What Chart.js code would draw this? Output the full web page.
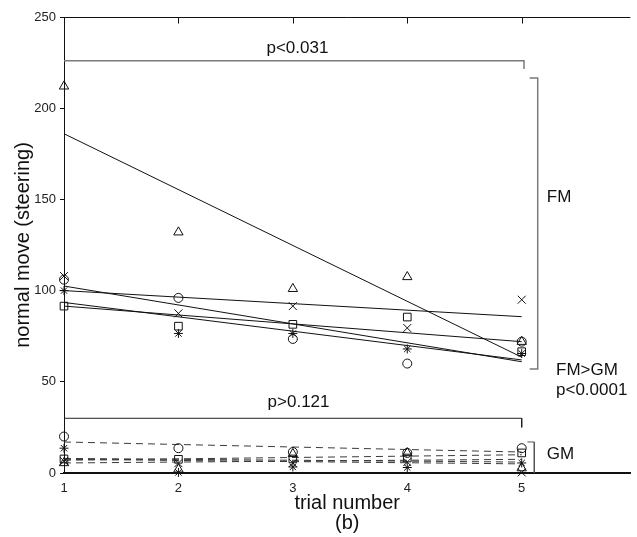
<!DOCTYPE html>
<html>
<head>
<meta charset="utf-8">
<script src="https://cdn.jsdelivr.net/npm/chart.js@4/dist/chart.umd.min.js"></script>
<style>
  html, body { margin: 0; padding: 0; background: #fff; overflow: hidden; }
  #wrap { width: 637px; height: 537px; }
</style>
</head>
<body>
<div id="wrap"><canvas id="chart"></canvas></div>
<script>
const FONT = "'Liberation Sans', Arial, Helvetica, sans-serif";

const trials = [1, 2, 3, 4, 5];
const yTicks = [0, 50, 100, 150, 200, 250];

// subjects, in marker order
const markers = ["triangle", "crossRot", "rect", "circle", "star"];
const markerSize = [5.4, 5.6, 5.4, 4.5, 4.5];

// FM group, normal moves per trial
const fmTriangle = [212, 132, 101, 107.5, 72];
const fmCross    = [108, 87.5, 91.5, 79.5, 95];
const fmSquare   = [91.5, 80.5, 81.5, 85.5, 66.5];
const fmCircle   = [106, 96, 73.5, 60, 72];
const fmStar     = [100, 76.5, 76.5, 68, 65.5];

// GM group, normal moves per trial
const gmTriangle = [5.5, 2, 10.5, 11, 2.7];
const gmCross    = [6.5, 5.4, 5.5, 6, 0.3];
const gmSquare   = [7.7, 7.5, 7.7, 8.2, 11];
const gmCircle   = [20, 13.6, 11.5, 11, 13.6];
const gmStar     = [13.6, 0.3, 3.3, 3, 5.5];

// fitted trend per subject: value at trial 1 and at trial 5
const fmFitStart = [186, 100, 91.5, 102.5, 93.5];
const fmFitEnd   = [63.5, 85.7, 72, 61, 62];
const gmFitStart = [5.5, 7.5, 7, 17, 8];
const gmFitEnd   = [7.5, 5, 10, 11.5, 6];

// significance brackets (trial, value)
const bracketTop   = [[1, 226], [5.02, 226], [5.02, 221.5]];
const bracketFM    = [[5.07, 216.5], [5.14, 216.5], [5.14, 57], [5.07, 57]];
const bracketLow   = [[1, 30], [5, 30], [5, 25]];
const bracketGM    = [[5.05, 17], [5.11, 17], [5.11, 0]];

const notes = [
  { text: "p<0.031",  x: 3.04, y: 233,  align: "center" },
  { text: "p>0.121",  x: 3.05, y: 39,   align: "center" },
  { text: "FM",       x: 5.22, y: 151,  align: "left" },
  { text: "FM>GM",    x: 5.30, y: 56.5, align: "left" },
  { text: "p<0.0001", x: 5.30, y: 45.5, align: "left" },
  { text: "GM",       x: 5.22, y: 10,   align: "left" },
];

const fmGroup = [fmTriangle, fmCross, fmSquare, fmCircle, fmStar];
const gmGroup = [gmTriangle, gmCross, gmSquare, gmCircle, gmStar];

const toPoints = (values) => values.map((v, i) => ({ x: trials[i], y: v }));
const pairPoints = (pairs) => pairs.map(([x, y]) => ({ x, y }));

const datasets = [];

function addGroup(group, fitStart, fitEnd, dashed) {
  group.forEach((values, i) => {
    datasets.push({
      data: toPoints(values),
      showLine: false,
      clip: false,
      pointStyle: markers[i],
      pointRadius: markerSize[i],
      pointBorderColor: "#111",
      pointBackgroundColor: "rgba(0,0,0,0)",
      pointBorderWidth: 1,
    });
    datasets.push({
      data: [{ x: trials[0], y: fitStart[i] }, { x: trials[trials.length - 1], y: fitEnd[i] }],
      showLine: true,
      pointRadius: 0,
      borderColor: dashed ? "#3a3a3a" : "#111",
      borderWidth: 1,
      borderDash: dashed ? [7, 5] : [],
    });
  });
}

addGroup(fmGroup, fmFitStart, fmFitEnd, false);
addGroup(gmGroup, gmFitStart, gmFitEnd, true);

function addBracket(pairs, color, width) {
  datasets.push({
    data: pairPoints(pairs),
    showLine: true,
    pointRadius: 0,
    borderColor: color,
    borderWidth: width,
  });
}

addBracket(bracketTop, "#7a7a7a", 1.5);
addBracket(bracketFM, "#7a7a7a", 1.5);
addBracket(bracketLow, "#222", 1);
addBracket(bracketGM, "#555", 1);

// top frame line with inward ticks
const topFrame = {
  id: "topFrame",
  afterDatasetsDraw(chart) {
    const { ctx, chartArea, scales } = chart;
    ctx.save();
    ctx.strokeStyle = "#111";
    ctx.lineWidth = 1;
    ctx.beginPath();
    const y = Math.round(chartArea.top) + 0.5;
    ctx.moveTo(chartArea.left, y);
    ctx.lineTo(chartArea.right, y);
    trials.forEach((t) => {
      const px = Math.round(scales.x.getPixelForValue(t)) + 0.5;
      ctx.moveTo(px, y);
      ctx.lineTo(px, y + 6);
    });
    ctx.stroke();
    ctx.restore();
  },
};

// annotation texts placed in data units
const noteText = {
  id: "noteText",
  afterDatasetsDraw(chart) {
    const { ctx, scales } = chart;
    ctx.save();
    ctx.fillStyle = "#111";
    ctx.font = `17px ${FONT}`;
    ctx.textBaseline = "middle";
    notes.forEach((n) => {
      ctx.textAlign = n.align;
      ctx.fillText(n.text, scales.x.getPixelForValue(n.x), scales.y.getPixelForValue(n.y));
    });
    ctx.restore();
  },
};

new Chart(document.getElementById("chart"), {
  type: "scatter",
  data: { datasets },
  plugins: [topFrame, noteText],
  options: {
    responsive: true,
    maintainAspectRatio: false,
    animation: false,
    layout: { padding: { top: 17, right: 0, left: 0, bottom: 0 } },
    plugins: {
      legend: { display: false },
      tooltip: { enabled: false },
    },
    scales: {
      x: {
        type: "linear",
        min: 1,
        max: 5.95,
        afterFit: (scale) => { scale.height = 64; },
        afterBuildTicks: (scale) => { scale.ticks = trials.map((v) => ({ value: v })); },
        ticks: { includeBounds: false, padding: 8, color: "#222", font: { size: 13, family: FONT } },
        grid: { drawOnChartArea: false, drawTicks: false },
        border: { display: true, color: "#111", width: 2 },
        title: {
          display: true,
          text: ["trial number", "(b)"],
          color: "#111",
          font: { size: 20, family: FONT, lineHeight: 1.0 },
          padding: { top: 0, bottom: 4 },
        },
      },
      y: {
        min: 0,
        max: 250,
        afterFit: (scale) => { scale.width = 64; },
        afterBuildTicks: (scale) => { scale.ticks = yTicks.map((v) => ({ value: v })); },
        ticks: { padding: 4, color: "#222", font: { size: 13, family: FONT } },
        grid: { drawOnChartArea: false, drawTicks: true, tickLength: 4, color: "#111" },
        border: { display: true, color: "#111", width: 1 },
        title: {
          display: true,
          text: "normal move (steering)",
          color: "#111",
          font: { size: 20, family: FONT },
          padding: { top: 11, bottom: 0 },
        },
      },
    },
  },
});
</script>
</body>
</html>
